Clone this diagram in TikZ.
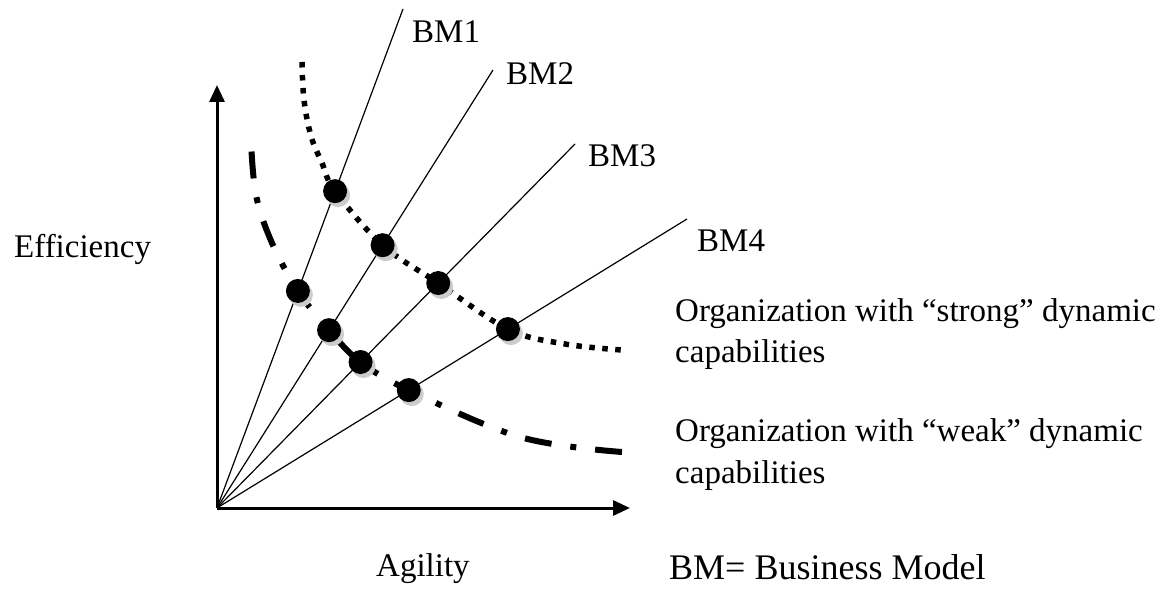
\documentclass[tikz,border=0pt]{standalone}
\usepackage{fontspec}
\setmainfont{Liberation Serif}
\usetikzlibrary{arrows.meta,calc}
\begin{document}
\begin{tikzpicture}[x=1pt,y=-1pt,
  axis/.style={line width=3pt,-{Triangle[length=17pt,width=15pt]}},
  ray/.style={line width=1.2pt},
  lbl/.style={font=\fontsize{33}{40}\selectfont, inner sep=0pt, anchor=base west},
  dotmark/.style={circle, fill=black, minimum size=24pt, inner sep=0pt},
  shadowmark/.style={circle, fill=gray!40, minimum size=24pt, inner sep=0pt},
  strongcurve/.style={line width=5.5pt, dash pattern=on 5.5pt off 7.5pt},
  weakcurve/.style={line width=6pt, dash pattern=on 27pt off 19pt on 6pt off 19pt}]
\useasboundingbox (0,0) rectangle (1165,593);
\coordinate (O) at (217,508);
\coordinate (ytip) at (217,85);
\coordinate (xtip) at (630,508);
\coordinate (e1) at (403,9);
\coordinate (e2) at (493,70);
\coordinate (e3) at (575,144);
\coordinate (e4) at (687,219);
% rays
\draw[ray] (O) -- (e1);
\draw[ray] (O) -- (e2);
\draw[ray] (O) -- (e3);
\draw[ray] (O) -- (e4);
% axes
\draw[axis] (O) -- (ytip);
\draw[axis] (O) -- (xtip);
% intersection points
\coordinate (ps1) at ($(O)!0.635!(e1)$);
\coordinate (ps2) at ($(O)!0.600!(e2)$);
\coordinate (ps3) at ($(O)!0.618!(e3)$);
\coordinate (ps4) at ($(O)!0.619!(e4)$);
\coordinate (pw1) at ($(O)!0.435!(e1)$);
\coordinate (pw2) at ($(O)!0.406!(e2)$);
\coordinate (pw3) at ($(O)!0.401!(e3)$);
\coordinate (pw4) at ($(O)!0.408!(e4)$);
% curves
\draw[strongcurve] plot[smooth, tension=0.6] coordinates {(302,62) (304,100) (311,136) (322,163) (ps1) (ps2) (ps3) (ps4) (565,344) (622,350)};
\draw[weakcurve] plot[smooth, tension=0.6] coordinates {(622,452) (520,437) (pw4) (pw3) (pw2) (pw1) (272,243) (256,195) (251,141)};
% dots
\foreach \p in {ps1,ps2,ps3,ps4,pw1,pw2,pw3,pw4}{
  \node[shadowmark] (sh\p) at ($(\p)+(3,4)$) {};
  \node[dotmark] (d\p) at (\p) {};
}
% labels
\node[lbl] (bm1) at (412,43) {BM1};
\node[lbl] (bm2) at (506,85) {BM2};
\node[lbl] (bm3) at (588,167) {BM3};
\node[lbl] (bm4) at (697,252) {BM4};
\node[lbl] (eff) at (14,258) {Efficiency};
\node[lbl] (agi) at (376,576) {Agility};
\node[lbl, font=\fontsize{36}{42}\selectfont] (bmdef) at (669,579) {BM= Business Model};
\node[lbl] (st1) at (675,322) {Organization with “strong” dynamic};
\node[lbl] (st2) at (675,363) {capabilities};
\node[lbl] (wk1) at (675,442) {Organization with “weak” dynamic};
\node[lbl] (wk2) at (675,483) {capabilities};
\end{tikzpicture}
\end{document}
